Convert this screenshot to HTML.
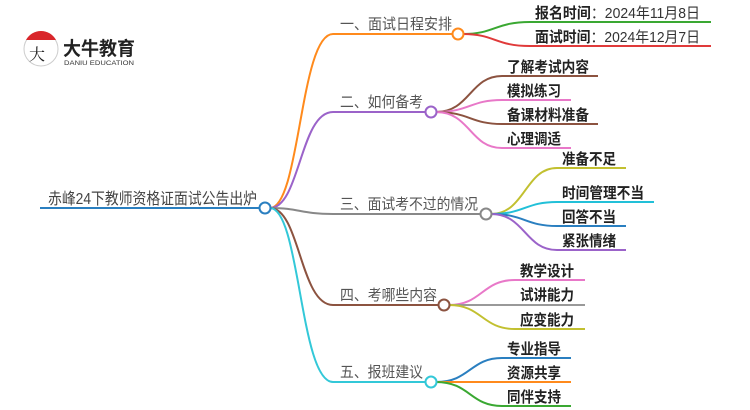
<!DOCTYPE html>
<html><head><meta charset="utf-8"><style>
html,body{margin:0;padding:0;background:#fff;}
svg{display:block;}
text{font-family:"Liberation Sans","Noto Sans CJK SC",sans-serif;}
.b{font-size:15px;fill:#555;}
.l{font-size:15px;fill:#222;font-weight:bold;}
</style></head><body>
<svg width="750" height="410" viewBox="0 0 750 410" xmlns="http://www.w3.org/2000/svg">
<g fill="none" stroke-width="2">
<line x1="40" y1="208" x2="260" y2="208" stroke="#2a7fc0"/>
<path d="M270 208 C300 208,300 34,333 34 L453 34" stroke="#ff8a1c"/>
<path d="M270 208 C300 208,300 112,333 112 L426 112" stroke="#9b63c9"/>
<path d="M270 208 C300 208,300 214,333 214 L481 214" stroke="#888"/>
<path d="M270 208 C300 208,300 305,333 305 L439 305" stroke="#8c5340"/>
<path d="M270 208 C300 208,300 382,333 382 L426 382" stroke="#33c8d8"/>
<path d="M463 34 C495 34,495 22,530 22 L711 22" stroke="#3aa832"/>
<path d="M463 34 C495 34,495 46,530 46 L711 46" stroke="#e03a3a"/>
<path d="M436 112 C470 112,470 76,502 76 L598 76" stroke="#8c5340"/>
<path d="M436 112 C470 112,470 100,502 100 L571 100" stroke="#e878c8"/>
<path d="M436 112 C470 112,470 124,502 124 L598 124" stroke="#8c5340"/>
<path d="M436 112 C470 112,470 148,502 148 L571 148" stroke="#e878c8"/>
<path d="M491 214 C525 214,525 168,557 168 L626 168" stroke="#c2c030"/>
<path d="M491 214 C525 214,525 202,557 202 L654 202" stroke="#22c0d8"/>
<path d="M491 214 C525 214,525 226,557 226 L626 226" stroke="#2a7fc0"/>
<path d="M491 214 C525 214,525 250,557 250 L626 250" stroke="#9b63c9"/>
<path d="M449 305 C482 305,482 280,515 280 L585 280" stroke="#e878c8"/>
<path d="M449 305 L585 305" stroke="#999"/>
<path d="M449 305 C482 305,482 329,515 329 L585 329" stroke="#c2c030"/>
<path d="M436 382 C470 382,470 358,502 358 L571 358" stroke="#2a7fc0"/>
<path d="M436 382 L571 382" stroke="#ff8a1c"/>
<path d="M436 382 C470 382,470 406,502 406 L571 406" stroke="#3aa832"/>
</g>
<g fill="#fff" stroke-width="2">
<circle cx="265" cy="208" r="5.5" stroke="#2a7fc0"/>
<circle cx="458" cy="34" r="5.5" stroke="#ff8a1c"/>
<circle cx="431" cy="112" r="5.5" stroke="#9b63c9"/>
<circle cx="486" cy="214" r="5.5" stroke="#888"/>
<circle cx="444" cy="305" r="5.5" stroke="#8c5340"/>
<circle cx="431" cy="382" r="5.5" stroke="#33c8d8"/>
</g>
<circle cx="41" cy="49" r="17" fill="#fff" stroke="#ccc" stroke-width="1"/>
<path d="M26 40 A17 17 0 0 1 56 40 Z" fill="#d9262b"/>
<text x="29" y="60" font-size="16" fill="#222" style="font-family:'Noto Serif CJK SC',serif">大</text>
<text x="63" y="55" font-size="19" font-weight="bold" fill="#222" textLength="72" lengthAdjust="spacingAndGlyphs">大牛教育</text>
<text x="64" y="65" font-size="6.5" fill="#333" textLength="70" lengthAdjust="spacingAndGlyphs">DANIU EDUCATION</text>
<text x="48" y="204" font-size="16" fill="#444" textLength="209" lengthAdjust="spacingAndGlyphs">赤峰24下教师资格证面试公告出炉</text>
<text class="b" x="340" y="29" textLength="112" lengthAdjust="spacingAndGlyphs">一、面试日程安排</text>
<text class="b" x="340" y="107" textLength="83" lengthAdjust="spacingAndGlyphs">二、如何备考</text>
<text class="b" x="340" y="209" textLength="138" lengthAdjust="spacingAndGlyphs">三、面试考不过的情况</text>
<text class="b" x="340" y="300" textLength="97" lengthAdjust="spacingAndGlyphs">四、考哪些内容</text>
<text class="b" x="340" y="377" textLength="83" lengthAdjust="spacingAndGlyphs">五、报班建议</text>
<text class="l" x="535" y="18" textLength="165" lengthAdjust="spacingAndGlyphs"><tspan>报名时间</tspan><tspan font-weight="normal" fill="#333">：2024年11月8日</tspan></text>
<text class="l" x="535" y="42" textLength="165" lengthAdjust="spacingAndGlyphs"><tspan>面试时间</tspan><tspan font-weight="normal" fill="#333">：2024年12月7日</tspan></text>
<text class="l" x="507" y="72" textLength="82" lengthAdjust="spacingAndGlyphs">了解考试内容</text>
<text class="l" x="507" y="96" textLength="54" lengthAdjust="spacingAndGlyphs">模拟练习</text>
<text class="l" x="507" y="120" textLength="82" lengthAdjust="spacingAndGlyphs">备课材料准备</text>
<text class="l" x="507" y="144" textLength="54" lengthAdjust="spacingAndGlyphs">心理调适</text>
<text class="l" x="562" y="164" textLength="54" lengthAdjust="spacingAndGlyphs">准备不足</text>
<text class="l" x="562" y="198" textLength="82" lengthAdjust="spacingAndGlyphs">时间管理不当</text>
<text class="l" x="562" y="222" textLength="54" lengthAdjust="spacingAndGlyphs">回答不当</text>
<text class="l" x="562" y="246" textLength="54" lengthAdjust="spacingAndGlyphs">紧张情绪</text>
<text class="l" x="520" y="276" textLength="54" lengthAdjust="spacingAndGlyphs">教学设计</text>
<text class="l" x="520" y="300" textLength="54" lengthAdjust="spacingAndGlyphs">试讲能力</text>
<text class="l" x="520" y="325" textLength="54" lengthAdjust="spacingAndGlyphs">应变能力</text>
<text class="l" x="507" y="354" textLength="54" lengthAdjust="spacingAndGlyphs">专业指导</text>
<text class="l" x="507" y="378" textLength="54" lengthAdjust="spacingAndGlyphs">资源共享</text>
<text class="l" x="507" y="402" textLength="54" lengthAdjust="spacingAndGlyphs">同伴支持</text>
</svg>
</body></html>
